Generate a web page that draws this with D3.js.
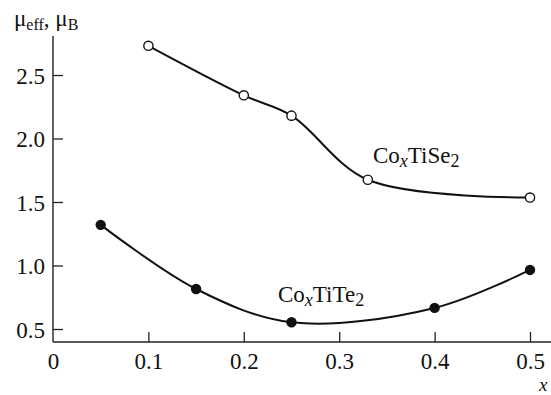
<!DOCTYPE html>
<html>
<head>
<meta charset="utf-8">
<script src="https://cdn.jsdelivr.net/npm/d3@7"></script>
<style>
  html, body { margin: 0; padding: 0; background: #fff; }
  svg { display: block; }
  svg text { font-family: "Liberation Serif", "Times New Roman", Times, "DejaVu Serif", serif; fill: #111; }
</style>
</head>
<body>
<svg id="chart" width="551" height="395"></svg>
<script>
// Data
const xTiSe = [0.10, 0.20, 0.25, 0.33, 0.50];
const yTiSe = [2.73, 2.34, 2.18, 1.675, 1.535];
const xTiTe = [0.05, 0.15, 0.25, 0.40, 0.50];
const yTiTe = [1.32, 0.815, 0.553, 0.666, 0.965];
const xTicks = [0, 0.1, 0.2, 0.3, 0.4, 0.5];
const xTickLabels = ["0", "0.1", "0.2", "0.3", "0.4", "0.5"];
const yTicks = [0.5, 1.0, 1.5, 2.0, 2.5];
const yTickLabels = ["0.5", "1.0", "1.5", "2.0", "2.5"];

const svg = d3.select("#chart");
const x = d3.scaleLinear().domain([0, 0.5]).range([53, 530]);
const y = d3.scaleLinear().domain([0.5, 2.5]).range([329, 75]);

const axisColor = "#222";
const fs = 23;
const serif = "Liberation Serif, Times New Roman, Times, DejaVu Serif, serif";

// X axis (ticks pointing inward/up)
const xAxis = svg.append("g").attr("transform", `translate(0,${y(0.398)})`)
  .call(d3.axisBottom(x).tickValues(xTicks).tickFormat((d, i) => xTickLabels[i])
        .tickSizeInner(-10).tickSizeOuter(0).tickPadding(11));
xAxis.attr("font-family", serif).attr("font-size", fs);
xAxis.select(".domain").remove();
xAxis.selectAll(".tick line").attr("stroke", axisColor).attr("stroke-width", 1.3);
xAxis.selectAll(".tick").filter(d => d === 0).select("line").remove();
xAxis.selectAll("text").attr("font-size", fs).attr("fill", "#111").attr("dy", "0.71em");
xAxis.append("line").attr("x1", x(0)).attr("x2", 551).attr("y1", 0).attr("y2", 0)
  .attr("stroke", axisColor).attr("stroke-width", 1.4);

// Y axis (ticks pointing inward/right)
const yAxis = svg.append("g").attr("transform", `translate(${x(0)},0)`)
  .call(d3.axisLeft(y).tickValues(yTicks).tickFormat((d, i) => yTickLabels[i])
        .tickSizeInner(-10).tickSizeOuter(0).tickPadding(8));
yAxis.attr("font-family", serif).attr("font-size", fs);
yAxis.select(".domain").remove();
yAxis.selectAll(".tick line").attr("stroke", axisColor).attr("stroke-width", 1.3);
yAxis.selectAll("text").attr("font-size", fs).attr("fill", "#111").attr("dy", "0.36em");
yAxis.append("line").attr("x1", 0).attr("x2", 0).attr("y1", 36).attr("y2", y(0.398))
  .attr("stroke", axisColor).attr("stroke-width", 1.4);

// Y title
const yt = svg.append("text").attr("x", 14).attr("y", 26).attr("font-size", fs);
yt.append("tspan").text("μ");
yt.append("tspan").attr("font-size", 16).attr("dy", 4).text("eff");
yt.append("tspan").attr("dy", -4).text(", μ");
yt.append("tspan").attr("font-size", 16).attr("dy", 4).text("B");

// X title
svg.append("text").attr("x", 539).attr("y", 390.5).attr("font-size", 19)
  .attr("font-style", "italic").text("x");

// Lines
const line = d3.line().x(d => x(d[0])).y(d => y(d[1])).curve(d3.curveCatmullRom.alpha(0.5));
const seSeries = xTiSe.map((v, i) => [v, yTiSe[i]]);
const teSeries = xTiTe.map((v, i) => [v, yTiTe[i]]);

svg.append("path").datum(seSeries).attr("d", line)
  .attr("fill", "none").attr("stroke", "#111").attr("stroke-width", 2);
svg.append("path").datum(teSeries).attr("d", line)
  .attr("fill", "none").attr("stroke", "#111").attr("stroke-width", 2);

svg.selectAll("circle.se").data(seSeries).enter().append("circle")
  .attr("cx", d => x(d[0])).attr("cy", d => y(d[1])).attr("r", 4.6)
  .attr("fill", "#fff").attr("stroke", "#111").attr("stroke-width", 1.4);
svg.selectAll("circle.te").data(teSeries).enter().append("circle")
  .attr("cx", d => x(d[0])).attr("cy", d => y(d[1])).attr("r", 5.2)
  .attr("fill", "#111");

// Series labels
function formulaLabel(px, py, tail) {
  const t = svg.append("text").attr("x", px).attr("y", py).attr("font-size", fs);
  t.append("tspan").text("Co");
  t.append("tspan").attr("font-size", 18).attr("font-style", "italic").attr("dy", 4).text("x");
  t.append("tspan").attr("dy", -4).text(tail);
  t.append("tspan").attr("font-size", 18).attr("dy", 4).text("2");
}
formulaLabel(373, 163, "TiSe");
formulaLabel(278, 302, "TiTe");
</script>
</body>
</html>
